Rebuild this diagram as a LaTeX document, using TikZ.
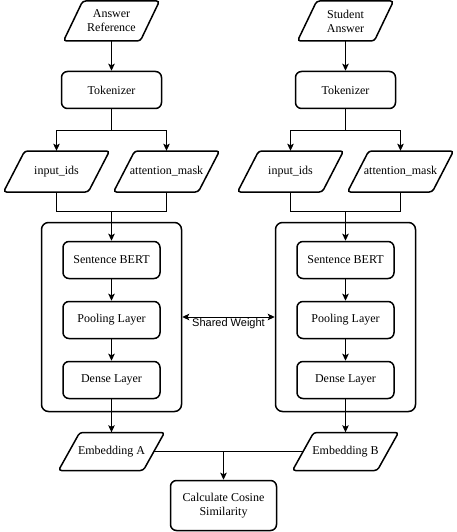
\documentclass[tikz,border=0pt]{standalone}
\usepackage{fontspec}
\setmainfont{Liberation Serif}
\newfontfamily\swfont{Liberation Sans}
\usetikzlibrary{arrows.meta}
% parallelogram data node: name, cx, cy, w, h, text
\newcommand\paranode[6]{%
  \node[datatext, minimum width={0.8*#4pt}, minimum height={#5pt}] (#1) at (#2,#3) {#6};
  \draw[databox] ({#2-#4/2},{#3+#5/2}) -- ({#2-#4/2+0.2*#4},{#3-#5/2})
    -- ({#2+#4/2},{#3-#5/2}) -- ({#2+#4/2-0.2*#4},{#3+#5/2}) -- cycle;
}
\begin{document}
\begin{tikzpicture}[x=1pt,y=-1pt,
  font=\fontsize{12}{14}\selectfont,
  procbox/.style={draw, line width=1.5pt, rounded corners=6pt, minimum width=100pt, minimum height=37pt, align=center, inner sep=2pt},
  layerbox/.style={procbox, minimum width=97pt},
  encbox/.style={draw, line width=1.5pt, rounded corners=7pt, minimum width=140pt, minimum height=189pt},
  datatext/.style={inner sep=0pt, align=center},
  databox/.style={draw, line width=1.5pt, rounded corners=3pt},
  tipstyle/.style={},
  conn/.style={line width=0.9pt, -{Stealth[length=7pt,width=6.5pt,inset=1.5pt]}},
  bothconn/.style={line width=0.9pt, {Stealth[length=7pt,width=6.5pt,inset=1.5pt]}-{Stealth[length=7pt,width=6.5pt,inset=1.5pt]}},
  link/.style={line width=0.9pt},
  swlabel/.style={font=\swfont\fontsize{11}{13}\selectfont, inner sep=1.5pt, below},
]
\useasboundingbox (0,0) rectangle (456,532);

% containers
\node[encbox] (encL) at (111.5,317) {};
\node[encbox] (encR) at (345.5,317) {};

% top inputs
\paranode{ansL}{111.5}{21}{96}{40}{Answer\\Reference}
\paranode{ansR}{345.5}{21}{96}{40}{Student\\Answer}

% tokenizers
\node[procbox] (tokL) at (111.5,90) {Tokenizer};
\node[procbox] (tokR) at (345.5,90) {Tokenizer};

% token outputs
\paranode{idsL}{56.5}{171.5}{106}{41}{input\_ids}
\paranode{maskL}{166.5}{171.5}{106}{41}{attention\_mask}
\paranode{idsR}{290.5}{171.5}{106}{41}{input\_ids}
\paranode{maskR}{400.5}{171.5}{106}{41}{attention\_mask}

% encoder layers
\node[layerbox] (bertL) at (111.5,260) {Sentence BERT};
\node[layerbox] (poolL) at (111.5,320) {Pooling Layer};
\node[layerbox] (denseL) at (111.5,380) {Dense Layer};
\node[layerbox] (bertR) at (345.5,260) {Sentence BERT};
\node[layerbox] (poolR) at (345.5,320) {Pooling Layer};
\node[layerbox] (denseR) at (345.5,380) {Dense Layer};

% embeddings
\paranode{embL}{111.5}{451.5}{106}{38}{Embedding A}
\paranode{embR}{345.5}{451.5}{106}{38}{Embedding B}

% cosine
\node[procbox, minimum width=106pt, minimum height=50pt] (cosine) at (223.5,505.5) {Calculate Cosine\\Similarity};

% helper coordinates
\coordinate (splitL) at (111.5,130);
\coordinate (splitR) at (345.5,130);
\coordinate (mergeL) at (111.5,211);
\coordinate (mergeR) at (345.5,211);

% connectors left
\draw[conn] (ansL.south) -- (tokL.north);
\draw[link] (tokL.south) -- (splitL);
\draw[conn] (splitL) -| (idsL.north);
\draw[conn] (splitL) -| (maskL.north);
\draw[link] (idsL.south) -- (idsL.south |- mergeL) -- (maskL.south |- mergeL) -- (maskL.south);
\draw[conn] (mergeL) -- (bertL.north);
\draw[conn] (bertL) -- (poolL);
\draw[conn] (poolL) -- (denseL);
\draw[conn] (denseL) -- (embL.north);

% connectors right
\draw[conn] (ansR.south) -- (tokR.north);
\draw[link] (tokR.south) -- (splitR);
\draw[conn] (splitR) -| (idsR.north);
\draw[conn] (splitR) -| (maskR.north);
\draw[link] (idsR.south) -- (idsR.south |- mergeR) -- (maskR.south |- mergeR) -- (maskR.south);
\draw[conn] (mergeR) -- (bertR.north);
\draw[conn] (bertR) -- (poolR);
\draw[conn] (poolR) -- (denseR);
\draw[conn] (denseR) -- (embR.north);

% shared weight
\draw[bothconn] (encL.east) -- node[swlabel] {Shared Weight} (encR.west);

% similarity
\draw[link] (embL.east) -- (embR.west);
\draw[conn] (embL.east -| cosine.north) -- (cosine.north);
\end{tikzpicture}
\end{document}
